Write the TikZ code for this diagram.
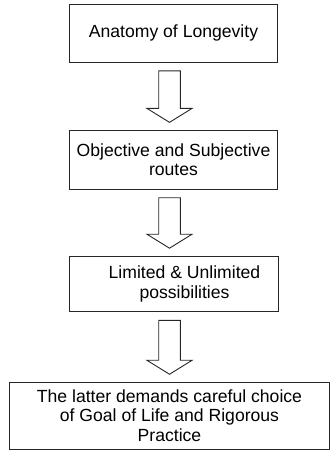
\documentclass[tikz,border=0pt]{standalone}
\usepackage{fontspec}
\setmainfont{Liberation Sans}
\usetikzlibrary{positioning, calc}

\begin{document}
\begin{tikzpicture}[
        x=1pt, y=-1pt,
        box/.style={draw=black!85, line width=0.9pt, rectangle, align=center, inner sep=2pt,
            minimum width=208.5pt, font=\fontsize{17.6}{19.5}\selectfont},
        hollow/.style={draw=black!85, line width=0.9pt, line join=miter},
    ]
        \useasboundingbox (0,0) rectangle (331,453);

        % The four stages
        \node[box, minimum height=58.3pt] (B1) at (173.5,33.2) {Anatomy of Longevity};
        \node[box, minimum height=59pt] (B2) at (173.5,159.8) {Objective and Subjective\\routes};
        \node[box, minimum height=55.7pt] (B3) at (174,284)
            {\hspace*{21pt}Limited \& Unlimited\\\hspace*{21pt}possibilities};
        \node[box, minimum width=320pt, minimum height=67pt] (B4) at (169.5,415.7)
            {The latter demands careful choice\\of Goal of Life and Rigorous\\Practice};

        % Hollow block arrows between the stages
        \coordinate (mid) at (169.5,0);
        \foreach \a/\b in {B1/B2, B2/B3, B3/B4} {
            \coordinate (top) at ($(\a.south -| mid)+(0,8)$);
            \coordinate (tip) at ($(\b.north -| mid)+(0,-7.5)$);
            \draw[hollow] ($(top)+(-10.8,0)$) -- ($(top)+(10.8,0)$) -- ($(tip)+(10.8,-14)$)
                -- ($(tip)+(22.6,-14)$) -- (tip) -- ($(tip)+(-22.6,-14)$)
                -- ($(tip)+(-10.8,-14)$) -- cycle;
        }
\end{tikzpicture}
\end{document}
